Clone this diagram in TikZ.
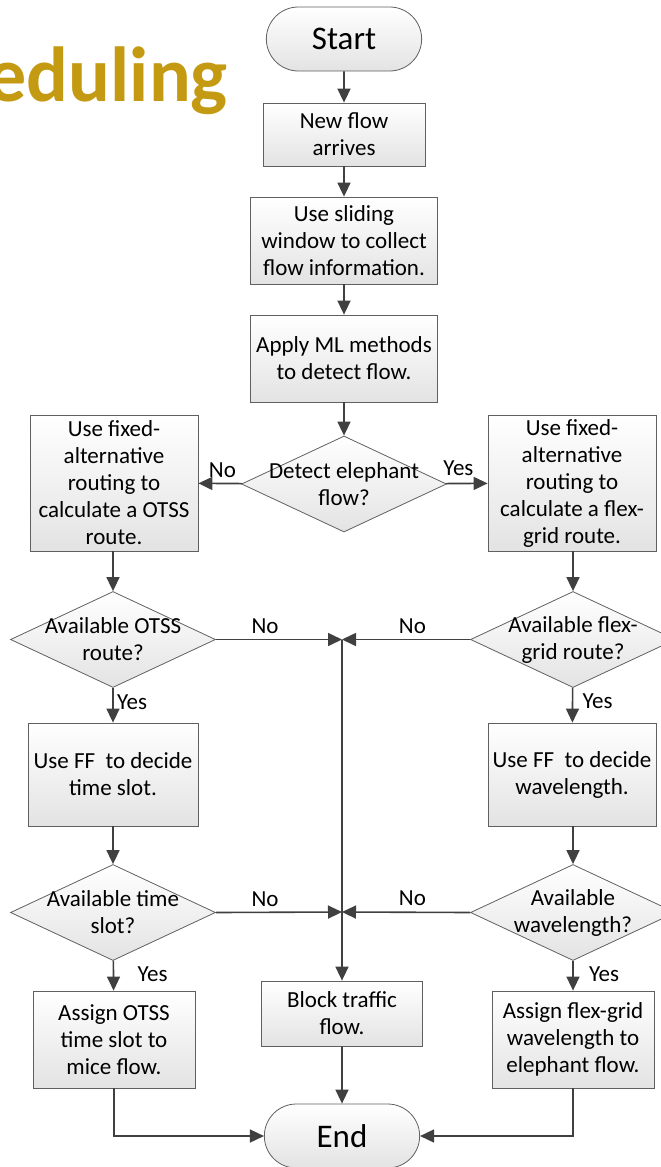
\documentclass[tikz,border=0pt]{standalone}
\usepackage{fontspec}
\setmainfont{Carlito}
\usetikzlibrary{shapes.geometric,shapes.misc,arrows.meta}
\definecolor{titlegold}{RGB}{196,154,18}
\definecolor{edge}{RGB}{96,96,96}
\definecolor{wire}{RGB}{64,64,64}
\begin{document}
\begin{tikzpicture}[x=1pt,y=-1pt,
    every node/.style={font=\fontsize{23}{27}\selectfont},
    shade/.style={draw=edge,line width=0.8pt,top color=white,bottom color=black!11},
    term/.style={shade,rounded rectangle,minimum width=162pt,minimum height=64pt,font=\fontsize{33}{38}\selectfont},
    proc/.style={shade,rectangle,align=center,inner sep=0pt},
    decide/.style={shade,diamond,minimum width=205pt,minimum height=96pt,inner sep=0pt},
    arr/.style={draw=wire,line width=1.6pt,-{Triangle[length=14pt,width=13pt]}},
    tag/.style={font=\fontsize{23}{27}\selectfont}]
\useasboundingbox (0,0) rectangle (661,1167);

% title fragment
\node[anchor=base east,text=titlegold,inner sep=0pt,font=\fontsize{78}{90}\selectfont\bfseries] (title) at (228,101) {eduling};

% middle column
\node[term] (start) at (344,39) {Start};
\node[proc,minimum width=162pt,minimum height=63pt] (new) at (344,134.5) {New flow\\arrives};
\node[proc,minimum width=187pt,minimum height=87pt] (window) at (344,240.5) {Use sliding\\window to collect\\flow information.};
\node[proc,minimum width=187pt,minimum height=87pt] (ml) at (344,358.5) {Apply ML methods\\to detect flow.};
\node[decide,label={[align=center]center:Detect elephant\\flow?}] (detect) at (344,484) {};

% left column
\node[proc,minimum width=168pt,minimum height=136pt] (lroute) at (114,483) {Use fixed-\\alternative\\routing to\\calculate a OTSS\\route.};
\node[decide,label={[align=center]center:Available OTSS\\route?}] (lavail) at (113,639.5) {};
\node[proc,minimum width=170pt,minimum height=103pt] (lff) at (113,774.5) {Use FF~ to decide\\time slot.};
\node[decide,label={[align=center]center:Available time\\slot?}] (lslot) at (113,912.5) {};
\node[proc,minimum width=162pt,minimum height=97pt] (lassign) at (114,1039.5) {Assign OTSS\\time slot to\\mice flow.};

% right column
\node[proc,minimum width=168pt,minimum height=136pt] (rroute) at (572,483) {Use fixed-\\alternative\\routing to\\calculate a flex-\\grid route.};
\node[decide,label={[align=center]center:Available flex-\\grid route?}] (ravail) at (573,639.5) {};
\node[proc,minimum width=168pt,minimum height=103pt] (rff) at (572,774.5) {Use FF~ to decide\\wavelength.};
\node[decide,label={[align=center]center:Available\\wavelength?}] (rwave) at (573,912.5) {};
\node[proc,minimum width=162pt,minimum height=97pt] (rassign) at (573,1039.5) {Assign flex-grid\\wavelength to\\elephant flow.};

% blocking
\node[proc,minimum width=161pt,minimum height=65pt] (block) at (342,1013.5) {Block traffic\\flow.};
\node[term] (end) at (342,1136) {End};
\coordinate (j1) at (342,639.5);
\coordinate (j2) at (342,912);

\draw[arr] (start) -- (new);
\draw[arr] (new) -- (window);
\draw[arr] (window) -- (ml);
\draw[arr] (ml) -- (detect);
\draw[arr] (detect) -- node[tag,above=2pt,pos=0.45] (no0) {No} (lroute);
\draw[arr] (detect) -- node[tag,above=4pt,pos=0.3] (yes0) {Yes} (rroute);
\draw[arr] (lroute.south -| lavail) -- (lavail);
\draw[arr] (rroute.south -| ravail) -- (ravail);
\draw[arr] (lavail) -- node[tag,right,pos=0.4] (yes1) {Yes} (lff);
\draw[arr] (ravail) -- node[tag,right,pos=0.4,xshift=6pt] (yes2) {Yes} (rff);
\draw[arr] (lff) -- (lslot);
\draw[arr] (rff.south -| rwave) -- (rwave);
\draw[arr] (lslot) -- node[tag,right,pos=0.45,xshift=20pt] (yes3) {Yes} (lassign);
\draw[arr] (rwave) -- node[tag,right,pos=0.45,xshift=12pt] (yes4) {Yes} (rassign);

% no branches
\draw[arr] (lavail.east) -- node[tag,above=2pt,pos=0.39] (no1) {No} (j1);
\draw[arr] (ravail.west) -- node[tag,above=2pt,pos=0.45] (no2) {No} (j1);
\draw[arr] (lslot.east) -- node[tag,above=2pt,pos=0.39] (no3) {No} (j2);
\draw[arr] (rwave.west) -- node[tag,above=2pt,pos=0.45] (no4) {No} (j2);
\draw[arr] (j1) -- (block);
\draw[arr] (block) -- (end);
\draw[arr] (lassign) |- (end);
\draw[arr] (rassign) |- (end);
\end{tikzpicture}
\end{document}
